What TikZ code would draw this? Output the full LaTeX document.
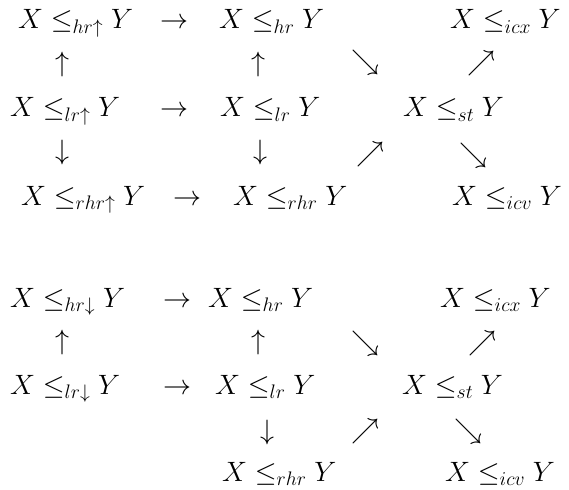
\RequirePackage{fix-cm}
\documentclass[tikz,border=0pt]{standalone}
\begin{document}
\begin{tikzpicture}[x=1pt,y=-1pt,
  rel/.style={anchor=base west,inner sep=0pt,font=\fontsize{28}{32}\selectfont},
  harr/.style={anchor=base,inner sep=0pt,font=\fontsize{28}{32}\selectfont},
  arr/.style={anchor=center,inner sep=0pt,font=\fontsize{28}{32}\selectfont}]
\useasboundingbox (0,0) rectangle (569,489);
% top block
\node[rel] (a1) at (18,29) {$X \leq_{hr\uparrow} Y$};
\node[harr] (a1r) at (174,29) {$\rightarrow$};
\node[rel] (b1) at (219,29) {$X \leq_{hr} Y$};
\node[rel] (c1) at (450,29) {$X \leq_{icx} Y$};
\node[arr] (u1) at (62,65) {$\uparrow$};
\node[arr] (u2) at (258,65) {$\uparrow$};
\node[arr] (se1) at (365,63) {$\searrow$};
\node[arr] (ne1) at (481,64) {$\nearrow$};
\node[rel] (a2) at (10,117) {$X \leq_{lr\uparrow} Y$};
\node[harr] (a2r) at (174,117) {$\rightarrow$};
\node[rel] (b2) at (220,117) {$X \leq_{lr} Y$};
\node[rel] (c2) at (403,117) {$X \leq_{st} Y$};
\node[arr] (d1) at (62,153) {$\downarrow$};
\node[arr] (d2) at (260,153) {$\downarrow$};
\node[arr] (ne2) at (370,154) {$\nearrow$};
\node[arr] (se2) at (473,155) {$\searrow$};
\node[rel] (a3) at (21,205) {$X \leq_{rhr\uparrow} Y$};
\node[harr] (a3r) at (187,205) {$\rightarrow$};
\node[rel] (b3) at (233,205) {$X \leq_{rhr} Y$};
\node[rel] (c3) at (452,205) {$X \leq_{icv} Y$};
% bottom block
\node[rel] (p1) at (10,307) {$X \leq_{hr\downarrow} Y$};
\node[harr] (p1r) at (177,307) {$\rightarrow$};
\node[rel] (q1) at (208,307) {$X \leq_{hr} Y$};
\node[rel] (s1) at (440,307) {$X \leq_{icx} Y$};
\node[arr] (pu) at (62,342) {$\uparrow$};
\node[arr] (qu) at (258,342) {$\uparrow$};
\node[arr] (se3) at (365,343) {$\searrow$};
\node[arr] (ne3) at (482,343) {$\nearrow$};
\node[rel] (p2) at (10,394) {$X \leq_{lr\downarrow} Y$};
\node[harr] (p2r) at (177,394) {$\rightarrow$};
\node[rel] (q2) at (215,394) {$X \leq_{lr} Y$};
\node[rel] (s2) at (402,394) {$X \leq_{st} Y$};
\node[arr] (qd) at (267,432) {$\downarrow$};
\node[arr] (ne4) at (365,431) {$\nearrow$};
\node[arr] (se4) at (468,431) {$\searrow$};
\node[rel] (q3) at (222,481) {$X \leq_{rhr} Y$};
\node[rel] (s3) at (445,481) {$X \leq_{icv} Y$};
\end{tikzpicture}
\end{document}
